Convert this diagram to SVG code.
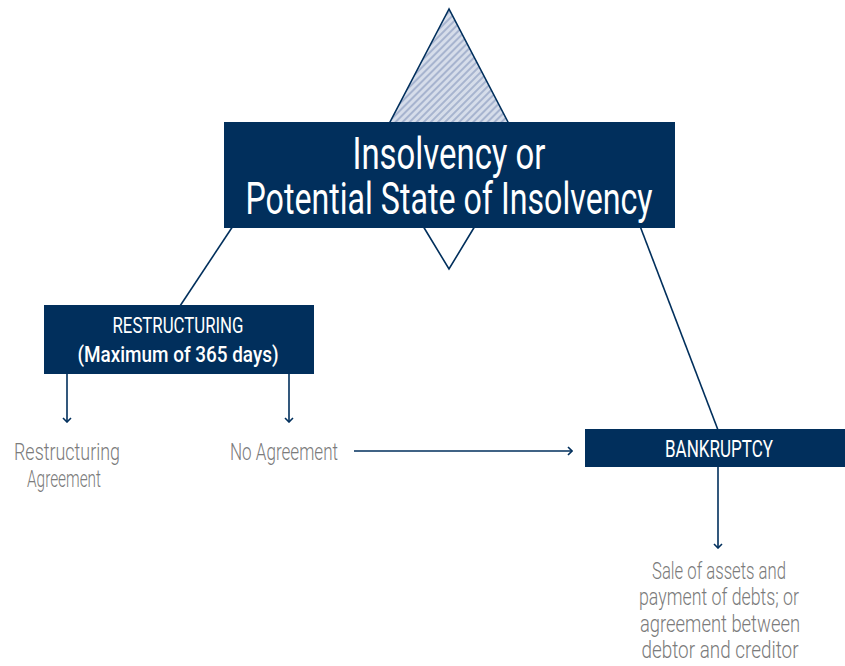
<svg xmlns="http://www.w3.org/2000/svg" width="845" height="666" viewBox="0 0 845 666">
  <style>
    .box { fill: #012f5c; }
    .line { stroke: #012f5c; stroke-width: 1.6; fill: none; }
    .arrow { stroke: #012f5c; stroke-width: 1.6; fill: none; marker-end: url(#chev); }
    .title { font-family: Roboto, "Liberation Sans", sans-serif; fill: #ffffff; text-anchor: middle; }
    .note { font-family: Roboto, "Liberation Sans", sans-serif; font-weight: 300; fill: #7b7b7b; font-size: 23px; text-anchor: middle; }
  </style>
  <defs>
    <pattern id="hatch" patternUnits="userSpaceOnUse" width="5" height="5" patternTransform="rotate(-45)">
      <rect width="5" height="5" fill="#d6ddea"/>
      <rect width="5" height="2" fill="#a7b4cf"/>
    </pattern>
    <!-- open chevron arrowhead, tip at the line end -->
    <marker id="chev" viewBox="0 0 10 10" refX="9" refY="5" markerWidth="10" markerHeight="10" markerUnits="userSpaceOnUse" orient="auto">
      <path d="M5,1 L9,5 L5,9" fill="none" stroke="#012f5c" stroke-width="1.6"/>
    </marker>
  </defs>

  <!-- insolvency emblem: hatched peak with a lower point -->
  <g id="emblem">
    <polygon points="449,9 389,124 509,124" fill="url(#hatch)" stroke="#012f5c" stroke-width="1.6"/>
    <polyline class="line" points="423,226 449,269 475,226"/>
  </g>

  <g id="connectors">
    <line class="line" x1="233" y1="226" x2="180" y2="306"/>
    <line class="line" x1="640" y1="226" x2="718" y2="430"/>
    <line class="arrow" x1="67" y1="374" x2="67" y2="422"/>
    <line class="arrow" x1="289" y1="374" x2="289" y2="422"/>
    <line class="arrow" x1="354" y1="451" x2="572" y2="451"/>
    <line class="arrow" x1="718" y1="466" x2="718" y2="548"/>
  </g>

  <g id="insolvency">
    <rect class="box" x="224" y="122" width="451" height="106"/>
    <text class="title" x="449" y="169" font-size="45" textLength="193" lengthAdjust="spacingAndGlyphs">Insolvency or</text>
    <text class="title" x="449" y="214" font-size="45" textLength="407" lengthAdjust="spacingAndGlyphs">Potential State of Insolvency</text>
  </g>

  <g id="restructuring">
    <rect class="box" x="44" y="305" width="270" height="69"/>
    <text class="title" x="178" y="333" font-size="22" textLength="131" lengthAdjust="spacingAndGlyphs">RESTRUCTURING</text>
    <text class="title" x="178" y="362" font-size="22" font-weight="500" textLength="201" lengthAdjust="spacingAndGlyphs">(Maximum of 365 days)</text>
  </g>

  <g id="bankruptcy">
    <rect class="box" x="585" y="429" width="260" height="38"/>
    <text class="title" x="719" y="457" font-size="24" textLength="108" lengthAdjust="spacingAndGlyphs">BANKRUPTCY</text>
  </g>

  <g id="restructuring-agreement">
    <text class="note" x="67" y="460" textLength="106" lengthAdjust="spacingAndGlyphs">Restructuring</text>
    <text class="note" x="64" y="487" textLength="74" lengthAdjust="spacingAndGlyphs">Agreement</text>
  </g>

  <g id="no-agreement">
    <text class="note" x="284" y="460" textLength="108" lengthAdjust="spacingAndGlyphs">No Agreement</text>
  </g>

  <g id="outcome">
    <text class="note" x="719" y="579" textLength="134" lengthAdjust="spacingAndGlyphs">Sale of assets and</text>
    <text class="note" x="719" y="605" textLength="160" lengthAdjust="spacingAndGlyphs">payment of debts; or</text>
    <text class="note" x="720" y="632" textLength="160" lengthAdjust="spacingAndGlyphs">agreement between</text>
    <text class="note" x="720" y="658" textLength="157" lengthAdjust="spacingAndGlyphs">debtor and creditor</text>
  </g>
</svg>
